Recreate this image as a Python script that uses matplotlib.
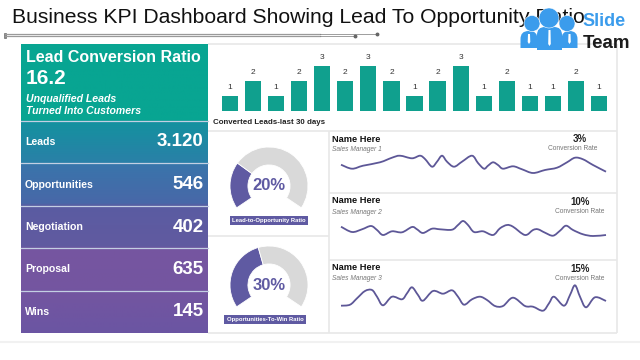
import numpy as np
import matplotlib
matplotlib.use('Agg')
import matplotlib.pyplot as plt
from matplotlib.colors import LinearSegmentedColormap
from matplotlib.patches import Circle, FancyBboxPatch, PathPatch, Polygon, Rectangle
from matplotlib.path import Path

plt.rcParams['font.family'] = ['Liberation Sans', 'DejaVu Sans']

W, H = 640, 360

# --- data ---
TITLE = 'Business KPI Dashboard Showing Lead To Opportunity Ratio'
DAILY_LEADS = [1, 2, 1, 2, 3, 2, 3, 2, 1, 2, 3, 1, 2, 1, 1, 2, 1]

FUNNEL_LABELS = ['Leads', 'Opportunities', 'Negotiation', 'Proposal', 'Wins']
FUNNEL_VALUES = ['3.120', '546', '402', '635', '145']

GAUGE_TEXT = ['20%', '30%']
GAUGE_NAMES = ['Lead-to-Opportunity Ratio', 'Opportunities-To-Win Ratio']
GAUGE_FILLED = [70, 108]
GAUGE_REST = [178, 140]
GAUGE_HIDDEN = 112

MANAGERS = ['Sales Manager 1', 'Sales Manager 2', 'Sales Manager 3']
RATES = ['3%', '10%', '15%']

M1_X = [0, 11, 22, 39, 51, 59, 71, 79, 84, 91, 96, 101, 106, 113, 121, 131, 137, 143,
        147, 152, 157, 162, 172, 181, 192, 204, 216, 226, 234, 242, 252, 265]
M1_Y = [15.3, 11.3, 14.3, 17.7, 22.3, 24.3, 21.7, 24.3, 21, 13.3, 18.3, 24.3, 18.3, 13.3,
        18.3, 24.3, 17, 11.3, 14.3, 17.7, 15, 11.3, 13.7, 10.7, 7, 10, 12.3, 17.7, 22.3,
        20.7, 15, 8.3]
M2_X = [0, 11, 21, 30, 36, 42, 51, 61, 71, 76, 82, 91, 99, 111, 117, 122, 127, 133, 142,
        152, 159, 166, 172, 184, 192, 197, 204, 212, 219, 225, 232, 242, 252, 265]
M2_Y = [18.3, 13, 15.7, 19, 15, 10, 13.7, 12.7, 18, 15.7, 12, 16.3, 15.7, 15.3, 20, 24,
        20, 13, 13.7, 10, 16.7, 20, 18.3, 10, 15, 15.7, 12.3, 9.3, 14.3, 19.3, 15, 10.7,
        9, 10]
M3_X = [0, 9, 16, 24, 31, 36, 42, 51, 61, 66, 71, 77, 82, 92, 102, 111, 117, 123, 131,
        139, 146, 154, 162, 172, 184, 192, 202, 208, 213, 223, 229, 234, 239, 245, 254, 265]
M3_Y = [9.3, 10.3, 16.7, 24, 25, 18.3, 9.7, 18.3, 15.7, 21.7, 27.7, 20, 14.3, 24, 21.3,
        24.7, 18.3, 10.3, 15.7, 18.3, 15, 9, 9, 17.3, 9, 8.3, 4.3, 11.7, 18.3, 9.3, 20,
        29.7, 18.3, 7.7, 17.7, 14]

# --- colours ---
TEAL = '#10a08e'
PURPLE = '#5f5aa2'
LINE_PURPLE = '#5d5797'
GREY = '#d9d9d9'
PANEL_LINE = '#e8e8e8'
BLUE = '#3b9cec'


def px_axes(fig, left, top, right, bottom):
    # axes box given in picture pixels
    return fig.add_axes([left / W, 1 - bottom / H, (right - left) / W, (bottom - top) / H])


def smooth_path(xs, ys):
    # Catmull-Rom through the read points, drawn as bezier segments
    pts = list(zip(xs, ys))
    verts, codes = [pts[0]], [Path.MOVETO]
    for i in range(len(pts) - 1):
        p0 = pts[max(i - 1, 0)]
        p1, p2 = pts[i], pts[i + 1]
        p3 = pts[min(i + 2, len(pts) - 1)]
        c1 = (p1[0] + (p2[0] - p0[0]) / 6, p1[1] + (p2[1] - p0[1]) / 6)
        c2 = (p2[0] - (p3[0] - p1[0]) / 6, p2[1] - (p3[1] - p1[1]) / 6)
        verts += [c1, c2, p2]
        codes += [Path.CURVE4] * 3
    return Path(verts, codes)


fig = plt.figure(figsize=(W / 100, H / 100), dpi=100, facecolor='white')

# overlay in pixel coordinates for the frame, texts and logo
ov = fig.add_axes([0, 0, 1, 1])
ov.set_xlim(0, W)
ov.set_ylim(H, 0)
ov.axis('off')

ov.text(12, 17.5, TITLE, fontsize=15.25, color='#111111', va='center', ha='left')

# rule below title
ov.plot([5, 320], [34, 34], color='#9a9a9a', lw=0.9)
ov.plot([5, 320], [36, 36], color='#9a9a9a', lw=0.9)
ov.plot([320, 377], [33.7, 33.7], color='#777777', lw=0.5)
ov.plot([320, 355], [36, 36], color='#777777', lw=0.5)
ov.plot([377, 355], [33.7, 36], ls='none', marker='o', ms=1.8, color='#666666')
ov.add_patch(Rectangle((3.5, 32.5), 2.5, 5, fc='#888888', ec='#555555', lw=0.4))

# panel frame
for x0, y0, x1, y1 in [(208, 44, 617, 44), (617, 44, 617, 333), (208, 130.5, 617, 130.5),
                       (329, 130.5, 329, 333), (329, 193, 617, 193), (208, 236, 329, 236),
                       (329, 260, 617, 260), (208, 333, 617, 333)]:
    ov.plot([x0, x1], [y0, y1], color=PANEL_LINE, lw=1.2, solid_capstyle='butt')
ov.plot([0, W], [342, 342], color='#f1f1f1', lw=1.5)

# left column gradient
cmap = LinearSegmentedColormap.from_list('funnel', [
    (0.0, '#08a592'), (0.26, '#08a592'), (0.27, '#14919f'), (0.41, '#2a80a8'),
    (0.42, '#3a74ab'), (0.55, '#4868a8'), (0.56, '#5a5ca2'), (0.70, '#615aa0'),
    (0.71, '#7656a0'), (0.85, '#7455a0'), (1.0, '#6b55a3')])
grad = np.linspace(0, 1, 290).reshape(-1, 1)
ov.imshow(grad, cmap=cmap, extent=(21, 208, 333, 44), aspect='auto', zorder=1)
ov.set_xlim(0, W)
ov.set_ylim(H, 0)

ov.text(26, 57, 'Lead Conversion Ratio', color='white', fontsize=11.5, fontweight='bold',
        va='center', zorder=3)
ov.text(26, 79, '16.2', color='white', fontsize=15, fontweight='bold', va='center', zorder=3)
ov.text(26, 98.5, 'Unqualified Leads', color='white', fontsize=7.6, fontweight='bold',
        style='italic', va='center', zorder=3)
ov.text(26, 111.5, 'Turned Into Customers', color='white', fontsize=7.6, fontweight='bold',
        style='italic', va='center', zorder=3)

row_tops = [120.5, 163, 205.5, 248, 290.5]
for top, label, value in zip(row_tops, FUNNEL_LABELS, FUNNEL_VALUES):
    ov.plot([21, 208], [top, top], color='#c3cfe3', lw=0.9, zorder=2)
    ov.text(25, top + 21.5, label, color='white', fontsize=7.6, fontweight='bold', va='center', zorder=3)
    ov.text(203.5, top + 21.5, value, color='white', fontsize=13.5, fontweight='bold',
            va='center', ha='right', zorder=3)

# bar chart
ax_bar = px_axes(fig, 218.5, 66, 610.5, 111)
ax_bar.patch.set_alpha(0)
idx = np.arange(len(DAILY_LEADS))
ax_bar.bar(idx, DAILY_LEADS, width=0.7, color=TEAL)
ax_bar.set_xlim(-0.5, len(DAILY_LEADS) - 0.5)
ax_bar.set_ylim(0, 3)
ax_bar.axis('off')
for i, v in zip(idx, DAILY_LEADS):
    ax_bar.annotate(str(v), (i, v), xytext=(0, 3.5), textcoords='offset points', ha='center',
                    va='bottom', fontsize=6, color='#333333', annotation_clip=False)
ov.text(213, 122, 'Converted Leads-last 30 days', fontsize=5.65, fontweight='bold',
        color='#222222', va='center')

# gauges
for i, cy in enumerate([186, 285]):
    ax_g = px_axes(fig, 269 - 39, cy - 39, 269 + 39, cy + 39)
    wedges, _ = ax_g.pie([GAUGE_FILLED[i], GAUGE_REST[i], GAUGE_HIDDEN], startangle=214,
                         counterclock=False, radius=1, colors=[PURPLE, GREY, 'none'],
                         wedgeprops={'width': 0.46, 'edgecolor': 'white', 'linewidth': 0.6})
    wedges[2].set_visible(False)
    ax_g.set_xlim(-1, 1)
    ax_g.set_ylim(-1, 1)
    ax_g.text(0, 0, GAUGE_TEXT[i], color=PURPLE, fontsize=12, fontweight='bold',
              ha='center', va='center')

for (x0, x1, y0, y1), name in zip([(230, 308, 216, 224.5), (224, 306, 315, 323.5)], GAUGE_NAMES):
    ov.add_patch(Rectangle((x0, y0), x1 - x0, y1 - y0, fc=PURPLE, ec='none', zorder=2))
    ov.text((x0 + x1) / 2, (y0 + y1) / 2, name, color='white', fontsize=4.2, fontweight='bold',
            ha='center', va='center', zorder=3)

# sales manager rows
rows = [
    (M1_X, M1_Y, 150, 180, 139, 149.5, 580, 139.5, 149),
    (M2_X, M2_Y, 215, 245, 200.5, 213, 580.5, 202, 211.5),
    (M3_X, M3_Y, 280, 315, 268, 278.5, 580.5, 268.5, 278),
]
for k, (xs, ys, top, bottom, ty, sy, rx, ry, cy) in enumerate(rows):
    ax_l = px_axes(fig, 341, top, 606, bottom)
    ax_l.patch.set_alpha(0)
    ax_l.add_patch(PathPatch(smooth_path(xs, ys), fc='none', ec=LINE_PURPLE, lw=1.3, clip_on=False))
    ax_l.set_xlim(0, 265)
    ax_l.set_ylim(0, bottom - top)
    ax_l.axis('off')
    ov.text(331.5, ty, 'Name Here', fontsize=6.7, fontweight='bold', color='#111111', va='center')
    ov.text(332, sy, MANAGERS[k], fontsize=4.8, style='italic', color='#777777', va='center')
    ov.text(rx, ry, RATES[k], fontsize=7, fontweight='bold', color='#222222', ha='center', va='center')
    ov.text(rx - 0.5 if k else rx - 7, cy, 'Conversion Rate', fontsize=4.8, color='#777777',
            ha='center', va='center')

# logo
lg = fig.add_axes([0, 0, 1, 1], zorder=5)
lg.set_xlim(0, W)
lg.set_ylim(H, 0)
lg.axis('off')
for cx, w, top, bottom in [(529, 17, 31, 48), (569.5, 16, 31, 48), (549.5, 25, 27, 50)]:
    body = FancyBboxPatch((cx - w / 2, top), w, bottom - top + 10,
                          boxstyle='round,pad=0,rounding_size=8', fc=BLUE, ec='none')
    lg.add_patch(body)
    body.set_clip_path(Rectangle((cx - 20, top - 2), 40, bottom - top + 2, transform=lg.transData))
    lg.add_patch(Polygon([(cx - 1, top + 3), (cx + 1, top + 3), (cx + 1.3, bottom - 6),
                          (cx, bottom - 4), (cx - 1.3, bottom - 6)], fc='white', ec='none'))
for cx, cy, r in [(532, 23.5, 8), (567, 23.5, 8), (549, 18, 10)]:
    lg.add_patch(Circle((cx, cy), r, fc=BLUE, ec='white', lw=0.4))
lg.text(582.5, 21, 'Slide', color=BLUE, fontsize=13, fontweight='bold', va='center', ha='left')
lg.text(582.5, 44, 'Team', color='#1c1c1c', fontsize=13.5, fontweight='bold', va='center', ha='left')

fig.savefig('out.png', dpi=100, facecolor='white')
